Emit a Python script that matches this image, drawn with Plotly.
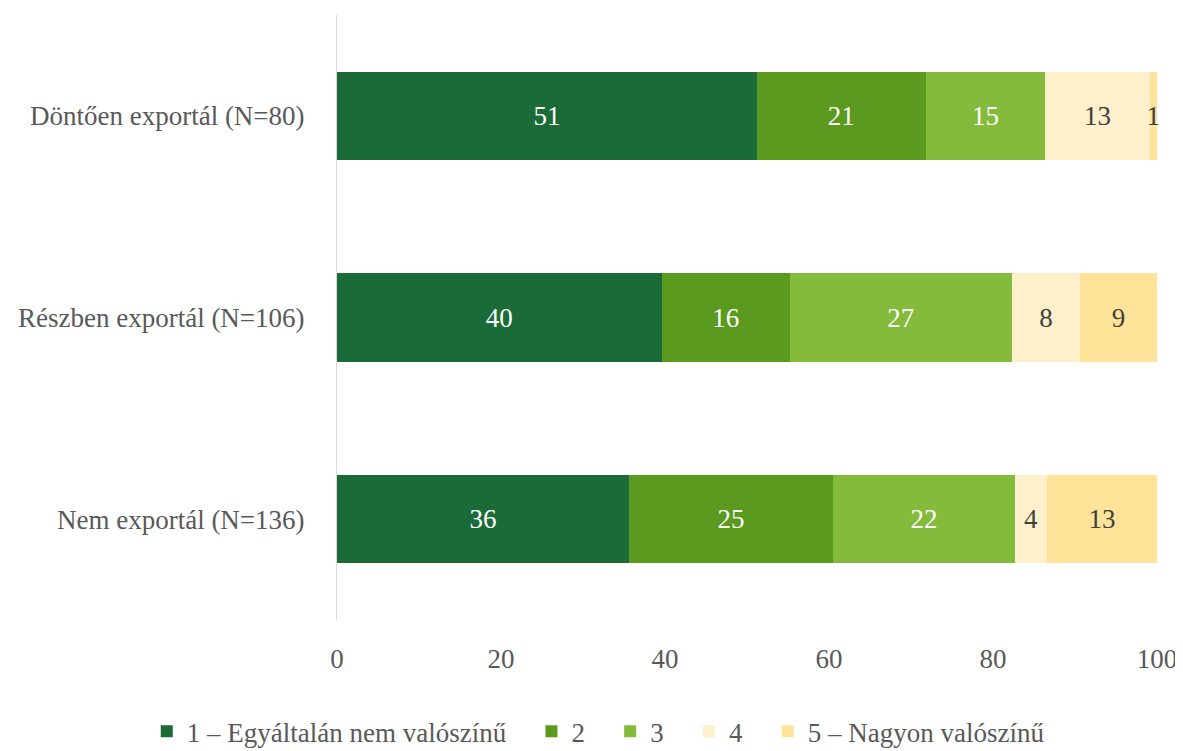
import plotly.graph_objects as go

categories = ["Nem exportál (N=136)", "Részben exportál (N=106)", "Döntően exportál (N=80)"]
series_names = ["1 – Egyáltalán nem valószínű", "2", "3", "4", "5 – Nagyon valószínű"]
s1 = [35.6, 39.6, 51.2]
s2 = [24.9, 15.6, 20.6]
s3 = [22.2, 27.1, 14.6]
s4 = [3.9, 8.3, 12.7]
s5 = [13.4, 9.4, 0.9]
values = [s1, s2, s3, s4, s5]
colors = ["#1a6b38", "#5a9a1e", "#84bb3c", "#fff0cc", "#ffe398"]
text_colors = ["#ffffff", "#ffffff", "#ffffff", "#404040", "#404040"]
xticks = [0, 20, 40, 60, 80, 100]

FONT = "Palatino Linotype, Book Antiqua, Palatino, Liberation Serif, serif"
PAD = "\u00a0\u00a0\u00a0"

fig = go.Figure()
for i, (name, vals, c, tc) in enumerate(zip(series_names, values, colors, text_colors)):
    fig.add_trace(go.Bar(
        y=categories, x=vals, name=name + (PAD if i < len(series_names) - 1 else ""),
        orientation="h",
        marker=dict(color=c, line=dict(width=0)),
        text=[f"{v:.0f}" for v in vals], textposition="inside",
        insidetextanchor="middle", constraintext="none",
        textfont=dict(color=tc, size=27, family=FONT),
        cliponaxis=False,
    ))

fig.update_layout(
    barmode="stack", bargap=0.563,
    width=1175, height=743,
    margin=dict(l=329, r=26, t=7, b=131, autoexpand=False),
    plot_bgcolor="white", paper_bgcolor="white",
    font=dict(family=FONT, size=27, color="#595959"),
    showlegend=True,
    legend=dict(orientation="h", x=-0.232, xanchor="left", y=-0.144, yanchor="top",
                font=dict(size=27, color="#595959"), traceorder="normal",
                itemwidth=30),
    xaxis=dict(range=[0, 100.001], tickvals=xticks, showgrid=False, zeroline=False,
               showline=False, ticks="", ticklabelstandoff=20,
               ticklabeloverflow="allow",
               tickfont=dict(size=27, color="#595959")),
    yaxis=dict(showline=True, linecolor="#d9d9d9", linewidth=1, ticks="",
               ticklabelstandoff=26, tickfont=dict(size=27, color="#595959"),
               showgrid=False),
)

fig.write_html("out.html")
